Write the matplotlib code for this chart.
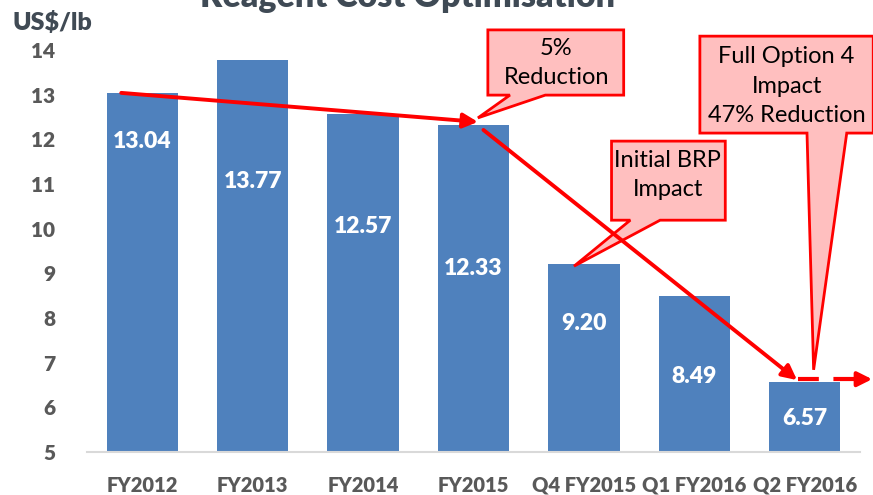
import matplotlib
matplotlib.use('Agg')
import matplotlib.pyplot as plt
from matplotlib.patches import Polygon

plt.rcParams['font.family'] = ['Lato', 'DejaVu Sans']

# ── DATA ──────────────────────────────────────────
periods = ['FY2012', 'FY2013', 'FY2014', 'FY2015', 'Q4 FY2015', 'Q1 FY2016', 'Q2 FY2016']
cost = [13.04, 13.77, 12.57, 12.33, 9.20, 8.49, 6.57]
label_y = [11.95, 11.05, 10.05, 9.10, 7.88, 6.70, 5.76]   # where the value labels sit
y_ticks = list(range(5, 15))

bar_blue = '#4F81BD'
red = '#FF0000'
pink = '#FFBFBF'
grey_txt = '#595959'
BOLD = 'heavy'

W, H = 873, 495
fig = plt.figure(figsize=(W / 100, H / 100), dpi=100)
ax = fig.add_axes([87 / W, (H - 452) / H, (860 - 87) / W, (452 - 50) / H])

x = list(range(len(periods)))
ax.bar(x, cost, width=0.645, color=bar_blue, bottom=0, zorder=2)
ax.set_xlim(-0.5, len(periods) - 0.5)
ax.set_ylim(5, 14)

for xi, v, ly in zip(x, cost, label_y):
    ax.text(xi, ly, f'{v:.2f}', ha='center', va='center', color='white',
            fontsize=16.5, fontweight=BOLD, zorder=3)

ax.set_yticks(y_ticks)
ax.set_yticklabels([str(t) for t in y_ticks], fontsize=15, fontweight=BOLD, color=grey_txt)
ax.set_xticks(x)
ax.set_xticklabels(periods, fontsize=14.5, fontweight=BOLD, color=grey_txt)
ax.tick_params(axis='both', length=0)
ax.tick_params(axis='y', pad=23)
ax.tick_params(axis='x', pad=17)
for s in ['top', 'right', 'left']:
    ax.spines[s].set_visible(False)
ax.spines['bottom'].set_color('#D9D9D9')
ax.spines['bottom'].set_linewidth(1.5)

# ── TREND ARROWS ──────────────────────────────────
arrow_kw = dict(arrowstyle='-|>', color=red, lw=2.8, mutation_scale=22, shrinkA=0, shrinkB=0)
ax.annotate('', xy=(3.04, 12.39), xytext=(-0.19, 13.04), arrowprops=arrow_kw, zorder=6)
ax.annotate('', xy=(5.93, 6.61), xytext=(3.09, 12.21), arrowprops=arrow_kw, zorder=6)
ax.plot([5.94, 6.48], [6.63, 6.63], color=red, lw=3, dashes=(5, 3.5), clip_on=False, zorder=6)
ax.annotate('', xy=(6.61, 6.63), xytext=(6.46, 6.63), arrowprops=arrow_kw,
            annotation_clip=False, zorder=6)

# ── CALLOUTS ──────────────────────────────────────
callouts = [
    ('5%\nReduction', 3.75, 13.71,
     [(3.13, 14.45), (4.36, 14.45), (4.36, 12.99), (3.65, 12.99), (3.04, 12.48),
      (3.33, 12.99), (3.13, 12.99)]),
    ('Full Option 4\nImpact\n47% Reduction', 5.835, 13.19,
     [(5.05, 14.31), (6.62, 14.31), (6.62, 12.14), (6.38, 12.14), (6.08, 6.84),
      (6.02, 12.14), (5.05, 12.14)]),
    ('Initial BRP\nImpact', 4.76, 11.2,
     [(4.25, 11.96), (5.28, 11.96), (5.28, 10.19), (4.69, 10.19), (3.91, 9.16),
      (4.42, 10.19), (4.25, 10.19)]),
]
for txt, tx, ty, pts in callouts:
    ax.add_patch(Polygon(pts, closed=True, facecolor=pink, edgecolor=red, lw=2,
                         clip_on=False, zorder=4, joinstyle='miter'))
    ax.text(tx, ty, txt, ha='center', va='center', fontsize=17, color='black',
            linespacing=1.5, zorder=5, clip_on=False)

# ── TITLES ────────────────────────────────────────
fig.text(408 / W, 1 - 7 / H, 'Reagent Cost Optimisation', ha='center', va='baseline',
         fontsize=24.5, fontweight=BOLD, color='#3F4A55')
fig.text(12 / W, 1 - 30 / H, 'US$/lb', ha='left', va='baseline',
         fontsize=18, fontweight=BOLD, color='#404A54')

fig.savefig('out.png', dpi=100)
